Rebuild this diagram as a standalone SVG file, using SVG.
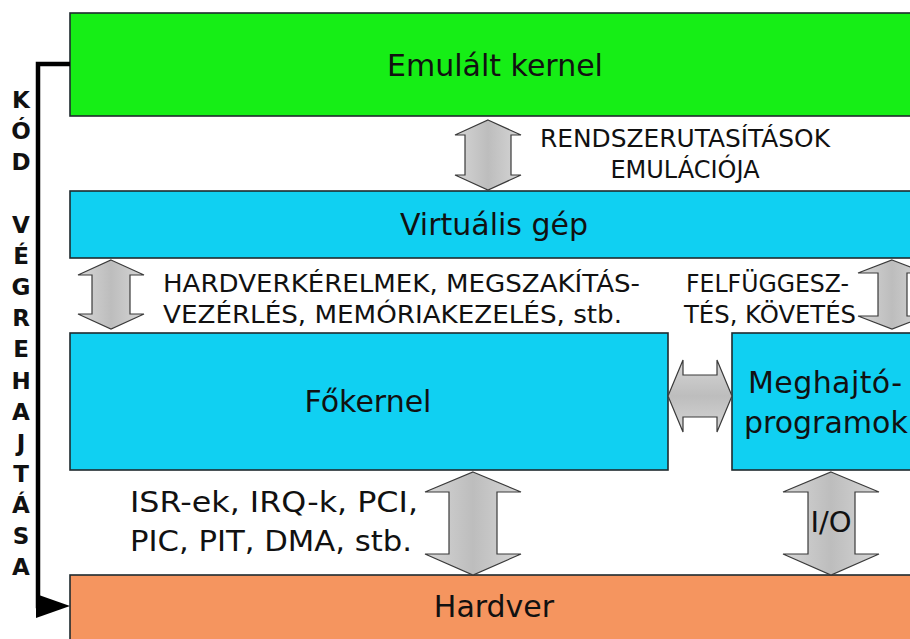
<svg xmlns="http://www.w3.org/2000/svg" width="910" height="639" viewBox="0 0 910 639">
<style>
.box{stroke:#1e2a2e;stroke-width:1.6}
.t{font-family:"DejaVu Sans","Verdana",sans-serif;fill:#111}
.big{font-size:30px}
.mid{font-size:24px}
.v{font-family:"DejaVu Sans",sans-serif;font-weight:bold;font-size:23px;fill:#111;text-anchor:middle}
.arr{fill:url(#g);stroke:#3a3a3a;stroke-width:1.2;stroke-linejoin:miter}
.arrh{fill:url(#gh);stroke:#3a3a3a;stroke-width:1.2}
</style>
<defs>
<linearGradient id="g" x1="0" y1="0" x2="1" y2="0">
<stop offset="0" stop-color="#d6d6d6"/><stop offset="0.5" stop-color="#bdbdbd"/><stop offset="1" stop-color="#d6d6d6"/>
</linearGradient>
<linearGradient id="gh" x1="0" y1="0" x2="0" y2="1">
<stop offset="0" stop-color="#d6d6d6"/><stop offset="0.5" stop-color="#bdbdbd"/><stop offset="1" stop-color="#d6d6d6"/>
</linearGradient>
</defs>
<rect width="910" height="639" fill="#ffffff"/>

<g id="emulalt-kernel">
<rect class="box" x="70" y="13" width="845" height="103" fill="#16ee16"/>
<text class="t big" x="495" y="76" text-anchor="middle">Emulált kernel</text>
</g>
<g id="virtualis-gep">
<rect class="box" x="70" y="191" width="845" height="67" fill="#10d0f2"/>
<text class="t big" x="494" y="235" text-anchor="middle">Virtuális gép</text>
</g>
<g id="fokernel">
<rect class="box" x="70" y="333" width="598" height="137" fill="#10d0f2"/>
<text class="t big" x="368" y="412" text-anchor="middle">Főkernel</text>
</g>
<g id="meghajtoprogramok">
<rect class="box" x="732" y="333" width="183" height="137" fill="#10d0f2"/>
<text class="t big" x="748" y="393" textLength="154" lengthAdjust="spacing">Meghajtó-</text>
<text class="t big" x="744" y="433">programok</text>
</g>
<g id="hardver">
<rect class="box" x="70" y="575" width="845" height="70" fill="#f5955f"/>
<text class="t big" x="494" y="617" text-anchor="middle">Hardver</text>
</g>

<g id="connectors">
<path class="arr" d="M488,120 L521,135 L511,135 L511,175 L521,175 L488,190 L455,175 L465,175 L465,135 L455,135 Z"/>
<path class="arr" d="M111,260 L144,275 L130,275 L130,314 L144,314 L111,329 L78,314 L92,314 L92,275 L78,275 Z"/>
<path class="arr" d="M892,260 L926,273 L907,273 L907,316 L926,316 L892,329 L858,316 L878,316 L878,273 L858,273 Z"/>
<path class="arrh" d="M668,396 L683,360 L683,375 L717,375 L717,360 L732,396 L717,432 L717,417 L683,417 L683,432 Z"/>
<path class="arr" d="M473,472 L521,492 L497,492 L497,554 L521,554 L473,575 L425,554 L449,554 L449,492 L425,492 Z"/>
<path class="arr" d="M831,472 L879,492 L855,492 L855,554 L879,554 L831,575 L783,554 L808,554 L808,492 L783,492 Z"/>
<path d="M70,64 L38,64 L38,606 L45,606" fill="none" stroke="#000" stroke-width="4.5"/>
<polygon points="36,594 70,606 36,618" fill="#000"/>
</g>

<g id="labels">
<text class="t mid" x="540" y="147" textLength="290" lengthAdjust="spacingAndGlyphs">RENDSZERUTASÍTÁSOK</text>
<text class="t mid" x="685" y="178" text-anchor="middle">EMULÁCIÓJA</text>
<text class="t mid" x="163" y="292" textLength="477" lengthAdjust="spacingAndGlyphs">HARDVERKÉRELMEK, MEGSZAKÍTÁS-</text>
<text class="t mid" x="163" y="323" textLength="459" lengthAdjust="spacingAndGlyphs">VEZÉRLÉS, MEMÓRIAKEZELÉS, stb.</text>
<text class="t mid" x="686" y="292" textLength="163" lengthAdjust="spacingAndGlyphs">FELFÜGGESZ-</text>
<text class="t mid" x="684" y="323" textLength="172" lengthAdjust="spacingAndGlyphs">TÉS, KÖVETÉS</text>
<text class="t" font-size="29" x="130" y="512" textLength="288" lengthAdjust="spacingAndGlyphs">ISR-ek, IRQ-k, PCI,</text>
<text class="t" font-size="29" x="130" y="551" textLength="282" lengthAdjust="spacingAndGlyphs">PIC, PIT, DMA, stb.</text>
<text class="t" font-size="29" x="831" y="532" text-anchor="middle">I/O</text>
</g>

<g id="kod-vegrehajtasa">
<text class="v" x="21" y="108">K</text>
<text class="v" x="21" y="139">Ó</text>
<text class="v" x="21" y="170">D</text>
<text class="v" x="21" y="233">V</text>
<text class="v" x="21" y="264">É</text>
<text class="v" x="21" y="295">G</text>
<text class="v" x="21" y="326">R</text>
<text class="v" x="21" y="357">E</text>
<text class="v" x="21" y="389">H</text>
<text class="v" x="21" y="420">A</text>
<text class="v" x="21" y="451">J</text>
<text class="v" x="21" y="482">T</text>
<text class="v" x="21" y="513">Á</text>
<text class="v" x="21" y="544">S</text>
<text class="v" x="21" y="575">A</text>
</g>
</svg>
